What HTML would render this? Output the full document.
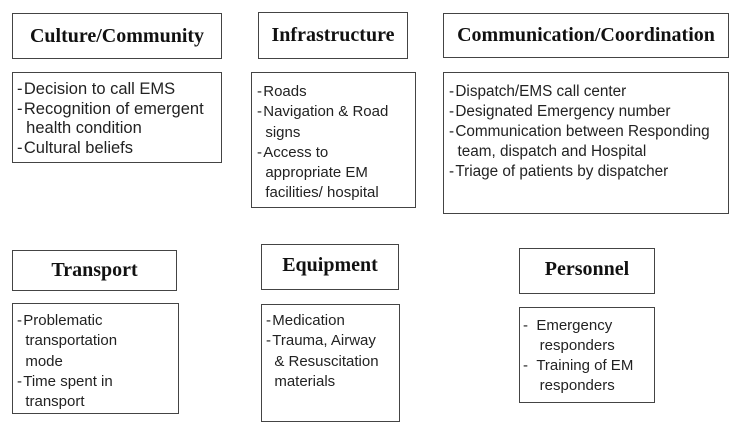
<!DOCTYPE html>
<html><head><meta charset="utf-8"><style>
body{margin:0;width:740px;height:427px;background:#fff;position:relative;overflow:hidden}
.b{position:absolute;border:1.5px solid #444;box-sizing:border-box;background:#fff;overflow:hidden}
.h{font-family:"Liberation Serif",serif;font-weight:bold;font-size:20px;color:#111;display:flex;align-items:center;justify-content:center}
.t{position:absolute;font-family:"Liberation Sans",sans-serif;font-size:15px;line-height:20px;color:#222;white-space:nowrap}
.a{font-size:16.5px}
</style></head><body>
<div class="b h" style="left:12px;top:13px;width:210px;height:46px">Culture/Community</div>
<div class="b h" style="left:258px;top:12px;width:150px;height:47px">Infrastructure</div>
<div class="b h" style="left:443px;top:13px;width:286px;height:45px">Communication/Coordination</div>
<div class="b h" style="left:12px;top:250px;width:165px;height:41px">Transport</div>
<div class="b h" style="left:261px;top:244px;width:138px;height:46px;padding-bottom:4px">Equipment</div>
<div class="b h" style="left:519px;top:248px;width:136px;height:46px;padding-bottom:4px">Personnel</div>

<div class="b" style="left:12px;top:72px;width:210px;height:91px">
<div class="t a" style="left:4px;top:7px;line-height:19.5px">-&#8202;Decision to call EMS<br>-&#8202;Recognition of emergent<br>&nbsp;&nbsp;health condition<br>-&#8202;Cultural beliefs</div></div>

<div class="b" style="left:251px;top:72px;width:165px;height:136px">
<div class="t" style="left:5px;top:9px;line-height:20.3px">-&#8202;Roads<br>-&#8202;Navigation &amp; Road<br>&nbsp;&nbsp;signs<br>-&#8202;Access to<br>&nbsp;&nbsp;appropriate EM<br>&nbsp;&nbsp;facilities/ hospital</div></div>

<div class="b" style="left:443px;top:72px;width:286px;height:142px">
<div class="t" style="left:5px;top:9px;font-size:15.3px">-&#8202;Dispatch/EMS call center<br>-&#8202;Designated Emergency number<br>-&#8202;Communication between Responding<br>&nbsp;&nbsp;team, dispatch and Hospital<br>-&#8202;Triage of patients by dispatcher</div></div>

<div class="b" style="left:12px;top:303px;width:167px;height:111px">
<div class="t" style="left:4px;top:7px;line-height:20.3px">-&#8202;Problematic<br>&nbsp;&nbsp;transportation<br>&nbsp;&nbsp;mode<br>-&#8202;Time spent in<br>&nbsp;&nbsp;transport</div></div>

<div class="b" style="left:261px;top:304px;width:139px;height:118px">
<div class="t" style="left:4px;top:6px;line-height:20.3px">-&#8202;Medication<br>-&#8202;Trauma, Airway<br>&nbsp;&nbsp;&amp; Resuscitation<br>&nbsp;&nbsp;materials</div></div>

<div class="b" style="left:519px;top:307px;width:136px;height:96px">
<div class="t" style="left:3px;top:8px">-&nbsp;&nbsp;Emergency<br>&nbsp;&nbsp;&nbsp;&nbsp;responders<br>-&nbsp;&nbsp;Training of EM<br>&nbsp;&nbsp;&nbsp;&nbsp;responders</div></div>
</body></html>
